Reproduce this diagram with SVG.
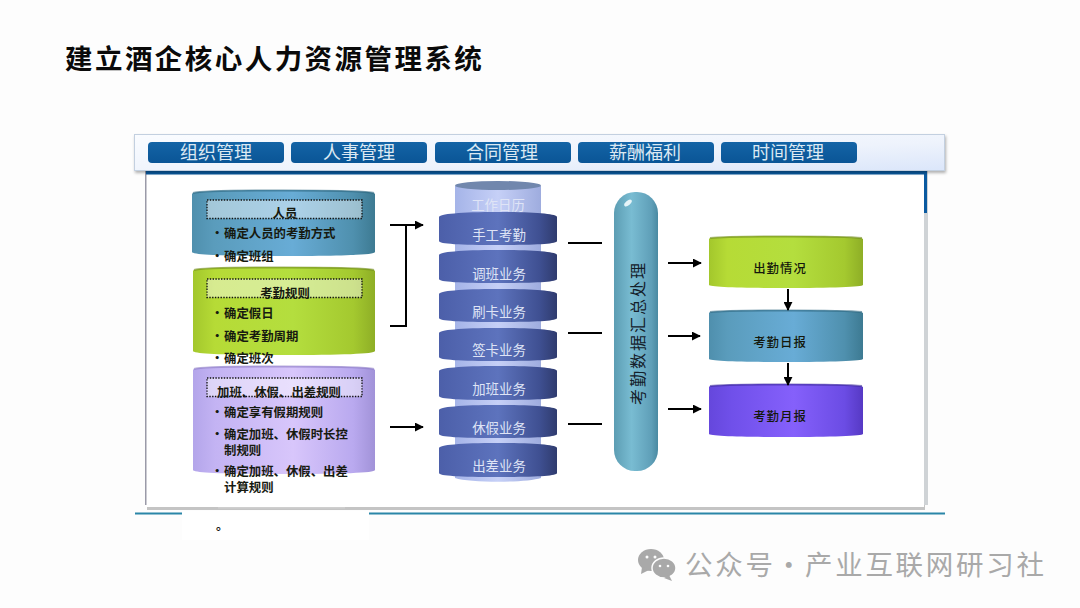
<svg xmlns="http://www.w3.org/2000/svg" width="1080" height="608" viewBox="0 0 1080 608">
<style>
text{font-family:"Noto Sans CJK SC","Noto Sans",sans-serif}
.title{font-size:27.5px;font-weight:700;letter-spacing:2.45px;fill:#0a0a0a}
.tab{fill:url(#gTab)}
.tabt{font-size:18px;fill:#dce9f3;text-anchor:middle}
.b{font-size:12.4px;font-weight:700;fill:#171a10}
.h{font-size:12.4px;font-weight:700;fill:#171a10;text-anchor:middle}
.dot{fill:#ffffff;fill-opacity:.45;stroke:#111;stroke-width:1.3;stroke-dasharray:1.4 1.4}
.rim{fill:none;stroke-width:2;stroke-opacity:.6}
.s{font-size:13.4px;fill:#dfe4f6;text-anchor:middle}
.o{font-size:12.4px;font-weight:500;letter-spacing:1px;fill:#14180c;text-anchor:middle}
.ln{stroke:#000;stroke-width:2;fill:none}
.ar{stroke:#000;stroke-width:2;fill:none;marker-end:url(#ah)}
.wm{font-size:27.5px;fill:#a9a9a9;letter-spacing:2.7px}
</style>
<defs>
<marker id="ah" viewBox="0 0 10 10" refX="9" refY="5" markerWidth="4.500" markerHeight="4.500" orient="auto"><path d="M0 0L10 5L0 10Z" fill="#000"/></marker>
<filter id="sh" x="-2%" y="-10%" width="104%" height="130%"><feDropShadow dx="1" dy="2" stdDeviation="1.500" flood-color="#000" flood-opacity=".3"/></filter>
<linearGradient id="gBar" x1="0" y1="0" x2="1" y2="1"><stop offset="0" stop-color="#fafcff"/><stop offset=".6" stop-color="#eef3fc"/><stop offset="1" stop-color="#dbe6fa"/></linearGradient>
<linearGradient id="gTab" x1="0" y1="0" x2="0" y2="1"><stop offset="0" stop-color="#1464a6"/><stop offset="1" stop-color="#0a5596"/></linearGradient>
<linearGradient id="gBlue" x1="0" y1="0" x2="1" y2="0"><stop offset="0" stop-color="#4f8fad"/><stop offset=".12" stop-color="#5a9cbc"/><stop offset=".55" stop-color="#68acd6"/><stop offset=".88" stop-color="#4f90ae"/><stop offset="1" stop-color="#3d7a92"/></linearGradient>
<linearGradient id="gGreen" x1="0" y1="0" x2="1" y2="0"><stop offset="0" stop-color="#a3c72c"/><stop offset=".12" stop-color="#b6db36"/><stop offset=".55" stop-color="#b4de3e"/><stop offset=".88" stop-color="#a4c92f"/><stop offset="1" stop-color="#8eae26"/></linearGradient>
<linearGradient id="gLilac" x1="0" y1="0" x2="1" y2="0"><stop offset="0" stop-color="#b3a5ea"/><stop offset=".12" stop-color="#c3b3f3"/><stop offset=".55" stop-color="#d8c6fb"/><stop offset=".88" stop-color="#b9a9ef"/><stop offset="1" stop-color="#a192d8"/></linearGradient>
<linearGradient id="gViolet" x1="0" y1="0" x2="1" y2="0"><stop offset="0" stop-color="#6547dc"/><stop offset=".15" stop-color="#7050ea"/><stop offset=".55" stop-color="#8560fb"/><stop offset=".88" stop-color="#6b4ce4"/><stop offset="1" stop-color="#5639c4"/></linearGradient>
<linearGradient id="gDisc" x1="0" y1="0" x2="1" y2="0"><stop offset="0" stop-color="#4c5fa9"/><stop offset=".5" stop-color="#5d73bd"/><stop offset=".85" stop-color="#3f5092"/><stop offset="1" stop-color="#2f3b6e"/></linearGradient>
<linearGradient id="gCore" x1="0" y1="0" x2="1" y2="0"><stop offset="0" stop-color="#a5b4e8"/><stop offset=".5" stop-color="#c6d0f7"/><stop offset="1" stop-color="#9eacde"/></linearGradient>
<linearGradient id="gPill" x1="0" y1="0" x2="1" y2="0"><stop offset="0" stop-color="#5c9db3"/><stop offset=".4" stop-color="#79bcd2"/><stop offset=".85" stop-color="#5f9fb8"/><stop offset="1" stop-color="#4a8aa2"/></linearGradient>
</defs>
<rect width="1080" height="608" fill="#fdfdfd"/>
<text class="title" x="65" y="69">建立酒企核心人力资源管理系统</text>

<g id="panel">
<rect x="147" y="174" width="778" height="336" fill="#c4c4c4"/>
<rect x="145" y="170" width="779" height="337" fill="#ffffff"/>
<rect x="145" y="170" width="1.500" height="335" fill="#9a9aa8"/>
<rect x="146" y="170" width="780" height="4.500" fill="#0a5aa0"/>
<rect x="924" y="170" width="4" height="335" fill="#cfd3d6"/>
<rect x="924" y="170" width="3" height="43" fill="#0a5aa0"/>
<rect x="135" y="512.500" width="810" height="2" fill="#2a86a8"/>
<rect x="182" y="511" width="187" height="29" fill="#ffffff"/>
<rect x="218" y="507" width="127" height="1.500" fill="#cfcfcf"/>
</g>
<g id="topbar">
<rect x="134.500" y="134.500" width="810" height="36" fill="url(#gBar)" stroke="#c3d0e0" filter="url(#sh)"/>
<rect x="148" y="142" width="136" height="21" rx="4" class="tab"/><text class="tabt" x="216" y="158.500">组织管理</text>
<rect x="291" y="142" width="136" height="21" rx="4" class="tab"/><text class="tabt" x="359" y="158.500">人事管理</text>
<rect x="435" y="142" width="136" height="21" rx="4" class="tab"/><text class="tabt" x="502" y="158.500">合同管理</text>
<rect x="578" y="142" width="136" height="21" rx="4" class="tab"/><text class="tabt" x="645" y="158.500">薪酬福利</text>
<rect x="721" y="142" width="136" height="21" rx="4" class="tab"/><text class="tabt" x="788" y="158.500">时间管理</text>
</g>

<g id="node-people">
<path d="M192 194C192 191 225 190 283 190S375 191 375 194V252C375 255 340 256 283 256S192 255 192 252Z" fill="url(#gBlue)"/>
<path d="M193 193C200 191 225 190.500 283 190.500S367 191 374 193" class="rim" stroke="#2f6880"/>
<rect x="207" y="200" width="155" height="18.500" class="dot"/>
<text class="h" x="285" y="218">人员</text>
<text class="b" x="211" y="238">•</text><text class="b" x="224" y="238">确定人员的考勤方式</text>
<text class="b" x="211" y="261">•</text><text class="b" x="224" y="261">确定班组</text>
</g>
<g id="node-rules">
<path d="M193 271C193 268 225 267 284 267S375 268 375 271V351C375 354 340 355 284 355S193 354 193 351Z" fill="url(#gGreen)"/>
<path d="M194 270C200 268 225 267.500 284 267.500S367 268 374 270" class="rim" stroke="#6f8a1c"/>
<rect x="207" y="279" width="155" height="18.500" class="dot"/>
<text class="h" x="285" y="298">考勤规则</text>
<text class="b" x="211" y="318">•</text><text class="b" x="224" y="318">确定假日</text>
<text class="b" x="211" y="341">•</text><text class="b" x="224" y="341">确定考勤周期</text>
<text class="b" x="211" y="363">•</text><text class="b" x="224" y="363">确定班次</text>
</g>
<g id="node-leave">
<path d="M193 370C193 367 225 366 284 366S375 367 375 370V470C375 473 340 474 284 474S193 473 193 470Z" fill="url(#gLilac)"/>
<path d="M194 369C200 367 225 366.500 284 366.500S367 367 374 369" class="rim" stroke="#8c7cc4"/>
<rect x="207" y="378" width="155" height="18.500" class="dot"/>
<text class="h" x="279" y="397">加班、休假、出差规则</text>
<text class="b" x="211" y="417">•</text><text class="b" x="224" y="417">确定享有假期规则</text>
<text class="b" x="211" y="439">•</text><text class="b" x="224" y="439">确定加班、休假时长控</text>
<text class="b" x="224" y="455">制规则</text>
<text class="b" x="211" y="476">•</text><text class="b" x="224" y="476">确定加班、休假、出差</text>
<text class="b" x="224" y="492">计算规则</text>
<text class="b" x="216" y="530">。</text>
</g>

<g id="node-stack">
<path d="M455 186V478C470 483 526 483 541 478V186Z" fill="url(#gCore)"/>
<ellipse cx="498" cy="185.500" rx="43" ry="4.500" fill="#7187ad"/>
<text class="s" x="498" y="210">工作日历</text>
</g>
<g id="node-s1"><path d="M439 217C439 214 460 212 498 212S557 214 557 217V241C557 244 536 245 498 245S439 244 439 241Z" fill="url(#gDisc)"/><text class="s" x="499" y="240">手工考勤</text></g>
<g id="node-s2"><path d="M439 255C439 252 460 250 498 250S557 252 557 255V279C557 282 536 283 498 283S439 282 439 279Z" fill="url(#gDisc)"/><text class="s" x="499" y="278.500">调班业务</text></g>
<g id="node-s3"><path d="M439 294C439 291 460 289 498 289S557 291 557 294V318C557 321 536 322 498 322S439 321 439 318Z" fill="url(#gDisc)"/><text class="s" x="499" y="317">刷卡业务</text></g>
<g id="node-s4"><path d="M439 333C439 330 460 328 498 328S557 330 557 333V357C557 360 536 361 498 361S439 360 439 357Z" fill="url(#gDisc)"/><text class="s" x="499" y="355">签卡业务</text></g>
<g id="node-s5"><path d="M439 371C439 368 460 366 498 366S557 368 557 371V396C557 399 536 400 498 400S439 399 439 396Z" fill="url(#gDisc)"/><text class="s" x="499" y="394">加班业务</text></g>
<g id="node-s6"><path d="M439 410C439 407 460 405 498 405S557 407 557 410V434C557 437 536 438 498 438S439 437 439 434Z" fill="url(#gDisc)"/><text class="s" x="499" y="432.500">休假业务</text></g>
<g id="node-s7"><path d="M439 448C439 445 460 443 498 443S557 445 557 448V473C557 476 536 477 498 477S439 476 439 473Z" fill="url(#gDisc)"/><text class="s" x="499" y="471">出差业务</text></g>

<g id="node-summary">
<rect x="614" y="192" width="44" height="279" rx="21" fill="url(#gPill)"/>
<ellipse cx="628" cy="203" rx="4.500" ry="2.300" transform="rotate(-40 628 203)" fill="#e6f4f8"/>
<text x="637" y="333" transform="rotate(-90 637 333)" text-anchor="middle" dominant-baseline="central" font-size="16" letter-spacing="2" fill="#14202a">考勤数据汇总处理</text>
</g>

<g id="node-attendance">
<path d="M709 239C709 237 740 236 786 236S863 237 863 239V285C863 287 830 288 786 288S709 287 709 285Z" fill="url(#gGreen)"/>
<path d="M710 238C720 237 745 236.500 786 236.500S852 237 862 238" class="rim" stroke="#6f8a1c"/>
<text class="o" x="780" y="273">出勤情况</text>
</g>
<g id="node-daily">
<path d="M709 313C709 311 740 310 786 310S863 311 863 313V359C863 361 830 362 786 362S709 361 709 359Z" fill="url(#gBlue)"/>
<path d="M710 312C720 311 745 310.500 786 310.500S852 311 862 312" class="rim" stroke="#2f6880"/>
<text class="o" x="780" y="347">考勤日报</text>
</g>
<g id="node-monthly">
<path d="M709 387C709 385 740 384 786 384S863 385 863 387V434C863 436 830 437 786 437S709 436 709 434Z" fill="url(#gViolet)"/>
<path d="M710 386C720 385 745 384.500 786 384.500S852 385 862 386" class="rim" stroke="#3c2a9a"/>
<text class="o" x="780" y="421">考勤月报</text>
</g>

<g id="connectors">
<path class="ar" d="M390 225H423"/>
<path class="ln" d="M406 225V326H390"/>
<path class="ar" d="M390 427H423"/>
<path class="ln" d="M568 243H602M568 333H602M568 424H602"/>
<path class="ar" d="M668 263H701"/>
<path class="ar" d="M668 336H700"/>
<path class="ar" d="M668 409H701"/>
<path class="ar" d="M788 289V310"/>
<path class="ar" d="M788 363V385"/>
</g>

<g id="watermark">
<ellipse cx="651" cy="560" rx="13" ry="11" fill="#a9a9a9"/><path d="M642 567l-1 7 8-4z" fill="#a9a9a9"/>
<ellipse cx="664" cy="568" rx="12" ry="10" fill="#a9a9a9" stroke="#fdfdfd" stroke-width="1.500"/><path d="M669 575l3 6-8-3z" fill="#a9a9a9"/>
<circle cx="647" cy="557" r="1.500" fill="#fdfdfd"/><circle cx="655" cy="557" r="1.500" fill="#fdfdfd"/><circle cx="660" cy="566" r="1.300" fill="#fdfdfd"/><circle cx="668" cy="566" r="1.300" fill="#fdfdfd"/>
<text class="wm" x="685" y="575">公众号</text><text class="wm" x="775" y="575">·</text><text class="wm" x="805" y="575">产业互联网研习社</text>
</g>
</svg>
